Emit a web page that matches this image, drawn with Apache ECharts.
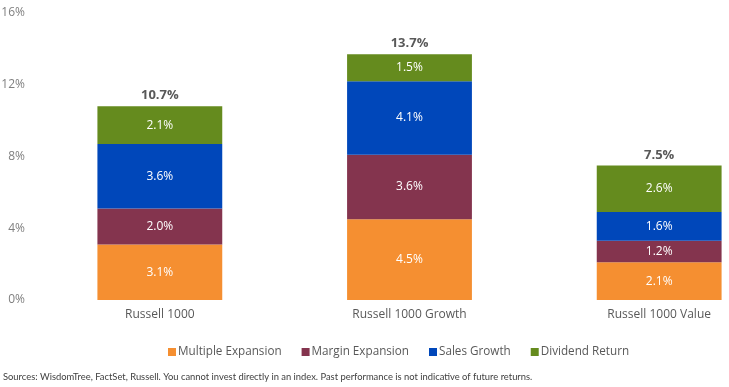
<!DOCTYPE html>
<html>
<head>
<meta charset="utf-8">
<script src="https://cdn.jsdelivr.net/npm/echarts@6/dist/echarts.min.js"></script>
<style>
html,body{margin:0;padding:0;background:#fff;}
#c{width:729px;height:387px;}
</style>
</head>
<body>
<div id="c"></div>
<script>
const categories = ['Russell 1000', 'Russell 1000 Growth', 'Russell 1000 Value'];
const multipleExpansion = [3.1, 4.5, 2.1];
const marginExpansion = [2.0, 3.6, 1.2];
const salesGrowth = [3.6, 4.1, 1.6];
const dividendReturn = [2.1, 1.5, 2.6];
const totals = [10.7, 13.7, 7.5];
const yTicks = [0, 4, 8, 12, 16];

const FONT = '"Open Sans", "Noto Sans", sans-serif';
const chart = echarts.init(document.getElementById('c'), null, {renderer: 'canvas'});

function seriesOf(name, data, color) {
  return {
    name: name,
    type: 'bar',
    stack: 'total',
    data: data,
    barWidth: '50%',
    itemStyle: {color: color},
    label: {
      show: true,
      position: 'inside',
      color: '#ffffff',
      fontFamily: FONT,
      fontSize: 12,
      formatter: p => p.value.toFixed(1) + '%'
    }
  };
}

const series = [
  seriesOf('Multiple Expansion', multipleExpansion, '#F58F31'),
  seriesOf('Margin Expansion', marginExpansion, '#84344E'),
  seriesOf('Sales Growth', salesGrowth, '#0047BA'),
  seriesOf('Dividend Return', dividendReturn, '#658B1E')
];
series.push({
  name: 'Total',
  type: 'bar',
  stack: 'total',
  data: totals.map(() => 0),
  barWidth: '50%',
  itemStyle: {color: 'transparent'},
  label: {
    show: true,
    position: 'top',
    distance: 4,
    color: '#595959',
    fontWeight: 'bold',
    fontFamily: FONT,
    fontSize: 13,
    formatter: p => totals[p.dataIndex].toFixed(1) + '%'
  }
});

chart.setOption({
  animation: false,
  backgroundColor: '#ffffff',
  grid: {left: 35, width: 749, top: 13, bottom: 87, containLabel: false, outerBoundsMode: 'none'},
  xAxis: {
    type: 'category',
    data: categories,
    axisLine: {show: false},
    axisTick: {show: false},
    axisLabel: {color: '#595959', fontFamily: FONT, fontSize: 12, margin: 9}
  },
  yAxis: {
    type: 'value',
    min: yTicks[0],
    max: yTicks[yTicks.length - 1],
    interval: 4,
    splitLine: {show: false},
    axisLine: {show: false},
    axisTick: {show: false},
    axisLabel: {color: '#7F7F7F', fontFamily: FONT, fontSize: 12, margin: 10,
      formatter: v => v + '%'}
  },
  legend: {
    data: ['Multiple Expansion', 'Margin Expansion', 'Sales Growth', 'Dividend Return'],
    left: 163,
    top: 341,
    itemWidth: 8,
    itemHeight: 8,
    itemGap: 20,
    icon: 'rect',
    textStyle: {color: '#595959', fontFamily: FONT, fontSize: 11.7, padding: [0, 0, 0, -3]}
  },
  graphic: [{
    type: 'text',
    left: 3,
    top: 372,
    style: {
      text: 'Sources: WisdomTree, FactSet, Russell. You cannot invest directly in an index. Past performance is not indicative of future returns.',
      fill: '#404040',
      font: '9.4px Lato, "Liberation Sans", sans-serif'
    }
  }],
  series: series
});
</script>
</body>
</html>
